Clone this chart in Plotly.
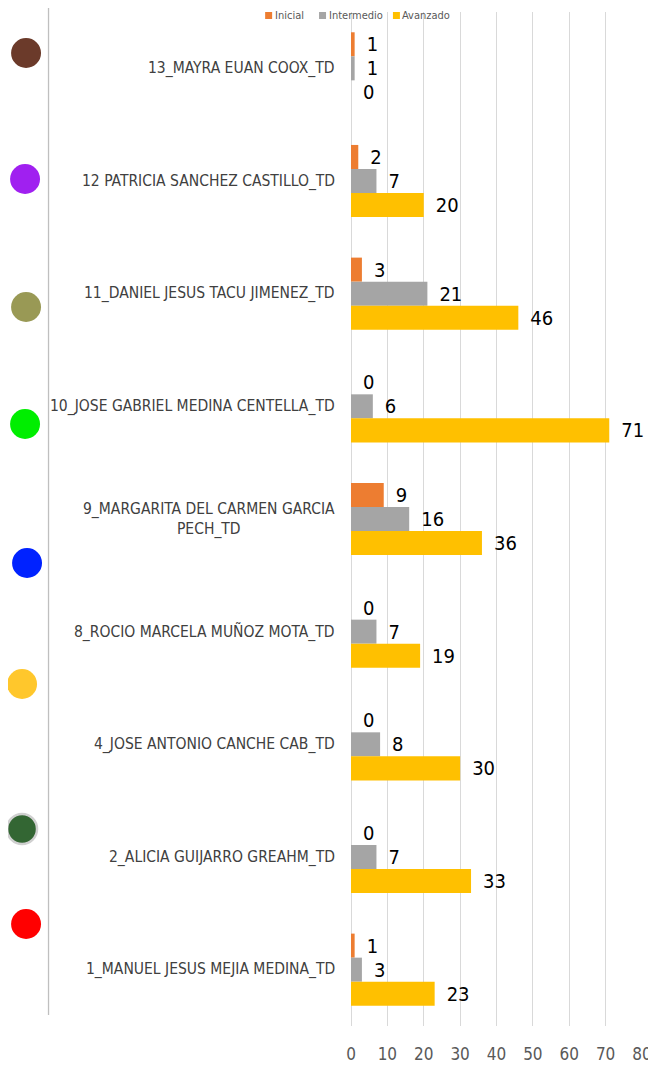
import plotly.graph_objects as go

categories = [
    "13_MAYRA EUAN COOX_TD",
    "12 PATRICIA SANCHEZ CASTILLO_TD",
    "11_DANIEL JESUS TACU JIMENEZ_TD",
    "10_JOSE GABRIEL MEDINA CENTELLA_TD",
    "9_MARGARITA DEL CARMEN GARCIA<br>PECH_TD",
    "8_ROCIO MARCELA MUÑOZ MOTA_TD",
    "4_JOSE ANTONIO CANCHE CAB_TD",
    "2_ALICIA GUIJARRO GREAHM_TD",
    "1_MANUEL JESUS MEJIA MEDINA_TD",
]
inicial = [1, 2, 3, 0, 9, 0, 0, 0, 1]
intermedio = [1, 7, 21, 6, 16, 7, 8, 7, 3]
avanzado = [0, 20, 46, 71, 36, 19, 30, 33, 23]
series_names = ["Inicial", "Intermedio", "Avanzado"]
series_colors = ["#ED7D31", "#A5A5A5", "#FFC000"]
x_ticks = [0, 10, 20, 30, 40, 50, 60, 70, 80]

dot_colors = ["#6B3A2A", "#A020F0", "#999955", "#00EE00", "#0022FF",
              "#FFC72C", "#336633", "#FF0000"]
dot_centers = [(25, 53), (24, 179), (25, 307), (24, 424), (26, 563),
               (21, 684), (21, 829), (25, 924)]
legend_x_px = [268, 322, 396]

FONT = "DejaVu Sans Condensed"

# page has an 8px body margin; positions below are in page pixels
OFF = 8
W, H = 656 - OFF, 1069 - OFF
PL, PR, PT, PB = 350.5, 642, 12, 1026   # plot area in page pixels
ML, MR, MT, MB = PL - OFF, W - (PR - OFF), PT - OFF, H - (PB - OFF)
pw, ph = PR - PL, PB - PT

fig = go.Figure()
for name, vals, col in zip(series_names, [inicial, intermedio, avanzado], series_colors):
    fig.add_trace(go.Bar(
        y=categories, x=vals, name=name, orientation="h",
        marker=dict(color=col, line=dict(width=0)),
        text=["\u2002" + str(v) for v in vals],
        textposition="outside",
        textfont=dict(family=FONT, size=20, color="#000000"),
        cliponaxis=False,
    ))

def px_to_paper_x(px):
    return (px - PL) / pw

def px_to_paper_y(py):
    return (PB - py) / ph

shapes = []
shapes.append(dict(type="line", xref="paper", yref="paper",
                   x0=px_to_paper_x(47.5), x1=px_to_paper_x(47.5),
                   y0=px_to_paper_y(0), y1=px_to_paper_y(1015),
                   line=dict(color="#BFBFBF", width=1.3)))
r = 15
for c, (cx, cy) in zip(dot_colors, dot_centers):
    border = dict(color="#D0D0D0", width=2.5) if c == "#336633" else dict(width=0)
    shapes.append(dict(type="circle", xref="paper", yref="paper",
                       x0=px_to_paper_x(cx - r), x1=px_to_paper_x(cx + r),
                       y0=px_to_paper_y(cy + r), y1=px_to_paper_y(cy - r),
                       fillcolor=c, line=border, layer="above"))

annotations = []
for cat in categories:
    annotations.append(dict(
        x=0, xref="paper", y=cat, yref="y", xanchor="right", xshift=-14,
        text=cat, showarrow=False, align="center",
        font=dict(family=FONT, size=15.5, color="#404040"),
    ))

# manual legend
for lx, name, col in zip(legend_x_px, series_names, series_colors):
    shapes.append(dict(type="rect", xref="paper", yref="paper",
                       x0=px_to_paper_x(lx - 3.5), x1=px_to_paper_x(lx + 3.5),
                       y0=px_to_paper_y(19), y1=px_to_paper_y(12),
                       fillcolor=col, line=dict(width=0), layer="above"))
    annotations.append(dict(
        x=px_to_paper_x(lx + 4), xref="paper", y=px_to_paper_y(15.5), yref="paper",
        xanchor="left", yanchor="middle", text=name, showarrow=False,
        font=dict(family=FONT, size=11, color="#595959"),
    ))

fig.update_layout(
    width=W, height=H,
    margin=dict(l=ML, r=MR, t=MT, b=MB, autoexpand=False),
    paper_bgcolor="white", plot_bgcolor="white",
    barmode="group", bargap=0.36, bargroupgap=0,
    showlegend=False,
    xaxis=dict(range=[0, 80], tickvals=x_ticks, showgrid=True, gridcolor="#D9D9D9", gridwidth=1.3,
               zeroline=True, zerolinecolor="#D9D9D9", zerolinewidth=1.3, showline=False,
               tickfont=dict(family=FONT, size=17, color="#595959"),
               ticks="", ticklabelstandoff=16, automargin=False),
    yaxis=dict(autorange="reversed", showticklabels=False, showgrid=False, zeroline=False,
               showline=False, ticks="", automargin=False),
    shapes=shapes,
    annotations=annotations,
)

fig.write_html("out.html")
